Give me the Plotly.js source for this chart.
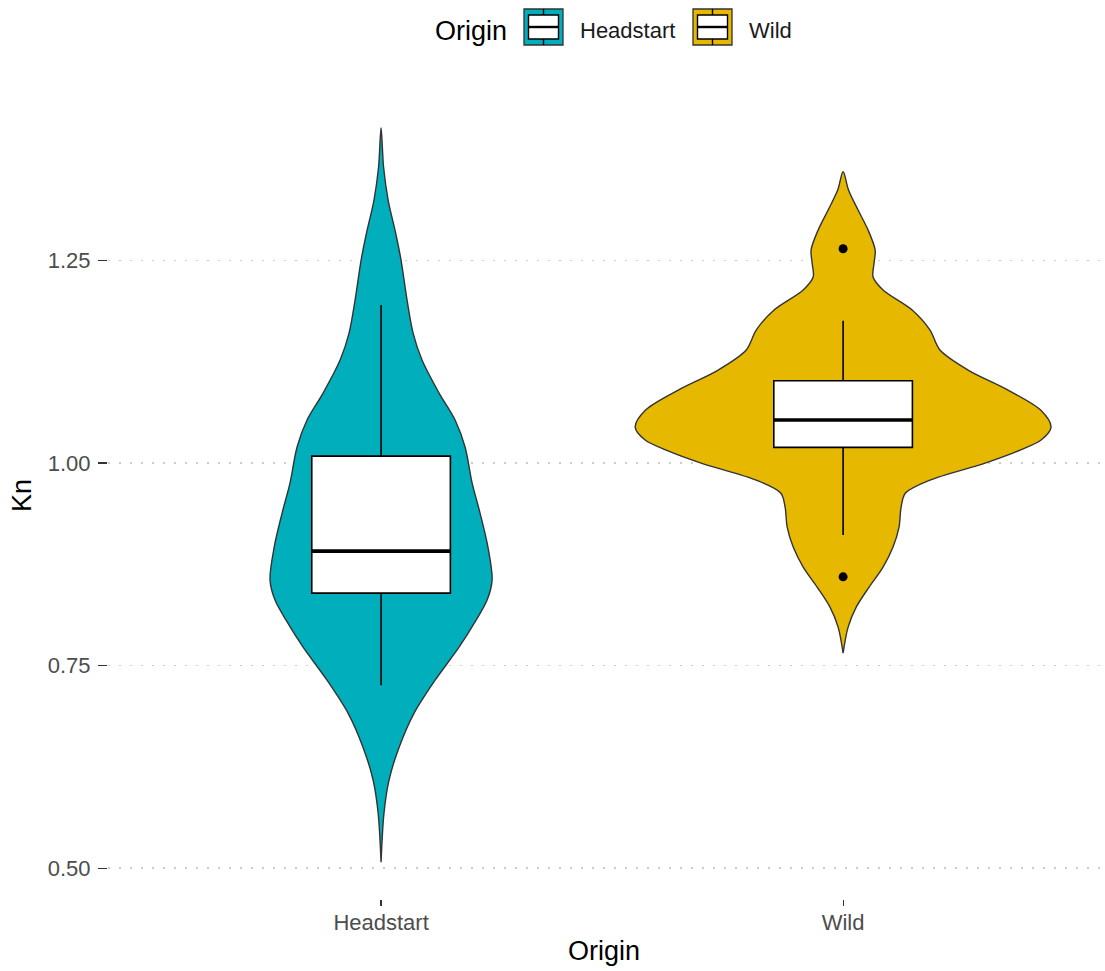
<!DOCTYPE html>
<html>
<head>
<meta charset="utf-8">
<script src="https://cdn.plot.ly/plotly-3.0.1.min.js"></script>
<style>html,body{margin:0;padding:0;background:#fff;}#chart{width:1105px;height:971px;}</style>
</head>
<body>
<div id="chart"></div>
<script>
// ---- data ----
const categories = ['Headstart', 'Wild'];
const fillColors = ['#00AFBB', '#E7B800'];

// violin density profiles (Kn value, density scaled so the widest violin = 1)
const headstartKn = [1.4136, 1.3654, 1.3247, 1.2840, 1.2506, 1.2012, 1.1605, 1.1272, 1.0864, 1.0531, 1.0198, 0.9753, 0.9383, 0.8963, 0.8556, 0.8309, 0.8062, 0.7728, 0.7321, 0.6914, 0.6494, 0.6086, 0.5679, 0.5074];
const headstartDensity = [0.000, 0.012, 0.034, 0.070, 0.096, 0.125, 0.154, 0.197, 0.279, 0.356, 0.404, 0.438, 0.476, 0.514, 0.534, 0.510, 0.457, 0.375, 0.260, 0.159, 0.087, 0.038, 0.014, 0.000];
const wildKn = [1.3596, 1.3370, 1.3123, 1.2877, 1.2630, 1.2469, 1.2296, 1.2136, 1.1889, 1.1642, 1.1395, 1.1148, 1.0901, 1.0654, 1.0444, 1.0284, 1.0160, 1.0000, 0.9790, 0.9630, 0.9457, 0.9210, 0.8963, 0.8716, 0.8469, 0.8222, 0.7975, 0.7654];
const wildDensity = [0.000, 0.026, 0.072, 0.120, 0.154, 0.149, 0.144, 0.192, 0.332, 0.418, 0.466, 0.601, 0.793, 0.950, 1.000, 0.952, 0.851, 0.683, 0.418, 0.300, 0.279, 0.269, 0.240, 0.192, 0.125, 0.063, 0.024, 0.000];

// box plot statistics per category
const boxQ1 = [0.8395, 1.0194];
const boxMedian = [0.8914, 1.0531];
const boxQ3 = [1.0086, 1.1016];
const boxLowerWhisker = [0.7259, 0.9111];
const boxUpperWhisker = [1.1950, 1.1757];

// outliers
const outlierOrigin = ['Wild', 'Wild'];
const outlierKn = [1.2646, 0.8596];

// y tick labels
const yTickVals = [0.50, 0.75, 1.00, 1.25];
const yTickText = ['0.50', '0.75', '1.00', '1.25'];

// ---- styling ----
const W = 1105, H = 971;
const M = {l: 108, r: 5, t: 92, b: 72};
const VIOLIN_HALF = 0.45;   // violin width 0.9
const BOX_WIDTH = 0.3;
const FONT = 'Liberation Sans, Arial, Helvetica, sans-serif';
const X_RANGE = [0.409, 2.556];
const Y_RANGE = [0.462, 1.458];

function violinTrace(name, pos, kn, dens, color) {
  const xs = [], ys = [];
  for (let i = 0; i < kn.length; i++) { xs.push(pos + VIOLIN_HALF * dens[i]); ys.push(kn[i]); }
  for (let i = kn.length - 1; i >= 0; i--) { xs.push(pos - VIOLIN_HALF * dens[i]); ys.push(kn[i]); }
  return {
    type: 'scatter', mode: 'lines', x: xs, y: ys, name: name,
    fill: 'toself', fillcolor: color,
    line: {color: '#333333', width: 1.4, shape: 'spline', smoothing: 0.9},
    hoverinfo: 'skip', showlegend: false
  };
}

const pos = categories.map((c, i) => i + 1);
const traces = [
  violinTrace(categories[0], pos[0], headstartKn, headstartDensity, fillColors[0]),
  violinTrace(categories[1], pos[1], wildKn, wildDensity, fillColors[1]),
  {
    type: 'box', orientation: 'v', x: pos, xaxis: 'x2', yaxis: 'y2',
    q1: boxQ1, median: boxMedian, q3: boxQ3,
    lowerfence: boxLowerWhisker, upperfence: boxUpperWhisker,
    width: BOX_WIDTH, whiskerwidth: 0, boxpoints: false,
    fillcolor: '#ffffff', line: {color: '#000000', width: 1.6},
    showlegend: false, hoverinfo: 'skip'
  }
];
// thicker median segments
categories.forEach((c, i) => {
  traces.push({
    type: 'scatter', mode: 'lines', xaxis: 'x2', yaxis: 'y2',
    x: [pos[i] - BOX_WIDTH / 2, pos[i] + BOX_WIDTH / 2],
    y: [boxMedian[i], boxMedian[i]],
    line: {color: '#000000', width: 3.6}, showlegend: false, hoverinfo: 'skip'
  });
});
traces.push({
  type: 'scatter', mode: 'markers', xaxis: 'x2', yaxis: 'y2',
  x: outlierOrigin.map(o => pos[categories.indexOf(o)]), y: outlierKn,
  marker: {color: '#000000', size: 9}, showlegend: false, hoverinfo: 'skip'
});

// ---- custom legend (ggplot style keys) in pixel positions ----
const plotW = W - M.l - M.r, plotH = H - M.t - M.b;
const px = v => (v - M.l) / plotW;
const py = v => (H - M.b - v) / plotH;
const shapes = [], annotations = [];
const keyLeft = [524, 693], KEY_W = 39, KEY_TOP = 9, KEY_BOT = 45;
const TEXT_Y = 31;
annotations.push({
  xref: 'paper', yref: 'paper', x: px(509), y: py(TEXT_Y), xanchor: 'right', yanchor: 'middle',
  text: 'Origin', showarrow: false, font: {size: 27, color: '#000000', family: FONT}
});
categories.forEach((c, i) => {
  const x0 = keyLeft[i], x1 = x0 + KEY_W, xm = (x0 + x1) / 2;
  shapes.push({type: 'rect', xref: 'paper', yref: 'paper', x0: px(x0), x1: px(x1), y0: py(KEY_BOT), y1: py(KEY_TOP),
    fillcolor: fillColors[i], line: {color: '#333333', width: 1.3}});
  shapes.push({type: 'line', xref: 'paper', yref: 'paper', x0: px(xm), x1: px(xm), y0: py(KEY_BOT), y1: py(KEY_TOP),
    line: {color: '#000000', width: 1.4}});
  shapes.push({type: 'rect', xref: 'paper', yref: 'paper', x0: px(x0 + 4.5), x1: px(x1 - 4.5), y0: py(39), y1: py(15),
    fillcolor: '#ffffff', line: {color: '#000000', width: 1.4}});
  shapes.push({type: 'line', xref: 'paper', yref: 'paper', x0: px(x0 + 4.5), x1: px(x1 - 4.5), y0: py(27), y1: py(27),
    line: {color: '#000000', width: 2.4}});
  annotations.push({
    xref: 'paper', yref: 'paper', x: px(x1 + 15), y: py(TEXT_Y), xanchor: 'left', yanchor: 'middle',
    text: c, showarrow: false, font: {size: 22, color: '#1a1a1a', family: FONT}
  });
});

const layout = {
  width: W, height: H,
  margin: M,
  paper_bgcolor: '#ffffff', plot_bgcolor: '#ffffff',
  font: {family: FONT, color: '#000000'},
  showlegend: false,
  shapes: shapes, annotations: annotations,
  xaxis: {
    range: X_RANGE, tickvals: pos, ticktext: categories,
    showgrid: false, zeroline: false, showline: false,
    ticks: 'outside', ticklen: 6, tickwidth: 1.2, tickcolor: '#333333',
    ticklabelstandoff: -2,
    tickfont: {size: 22, color: '#4d4d4d'},
    title: {text: 'Origin', font: {size: 27, color: '#000000'}, standoff: 6}
  },
  yaxis: {
    range: Y_RANGE, tickvals: yTickVals, ticktext: yTickText,
    showgrid: true, gridcolor: '#cccccc', gridwidth: 1.6, griddash: '2px,9px',
    zeroline: false, showline: false,
    ticks: 'outside', ticklen: 9, tickwidth: 1.2, tickcolor: '#333333',
    ticklabelstandoff: 3,
    tickfont: {size: 22, color: '#4d4d4d'},
    title: {text: 'Kn', font: {size: 27, color: '#000000'}, standoff: 8}
  },
  xaxis2: {overlaying: 'x', range: X_RANGE, visible: false},
  yaxis2: {overlaying: 'y', range: Y_RANGE, visible: false}
};

Plotly.newPlot('chart', traces, layout, {displayModeBar: false, staticPlot: true});
</script>
</body>
</html>
